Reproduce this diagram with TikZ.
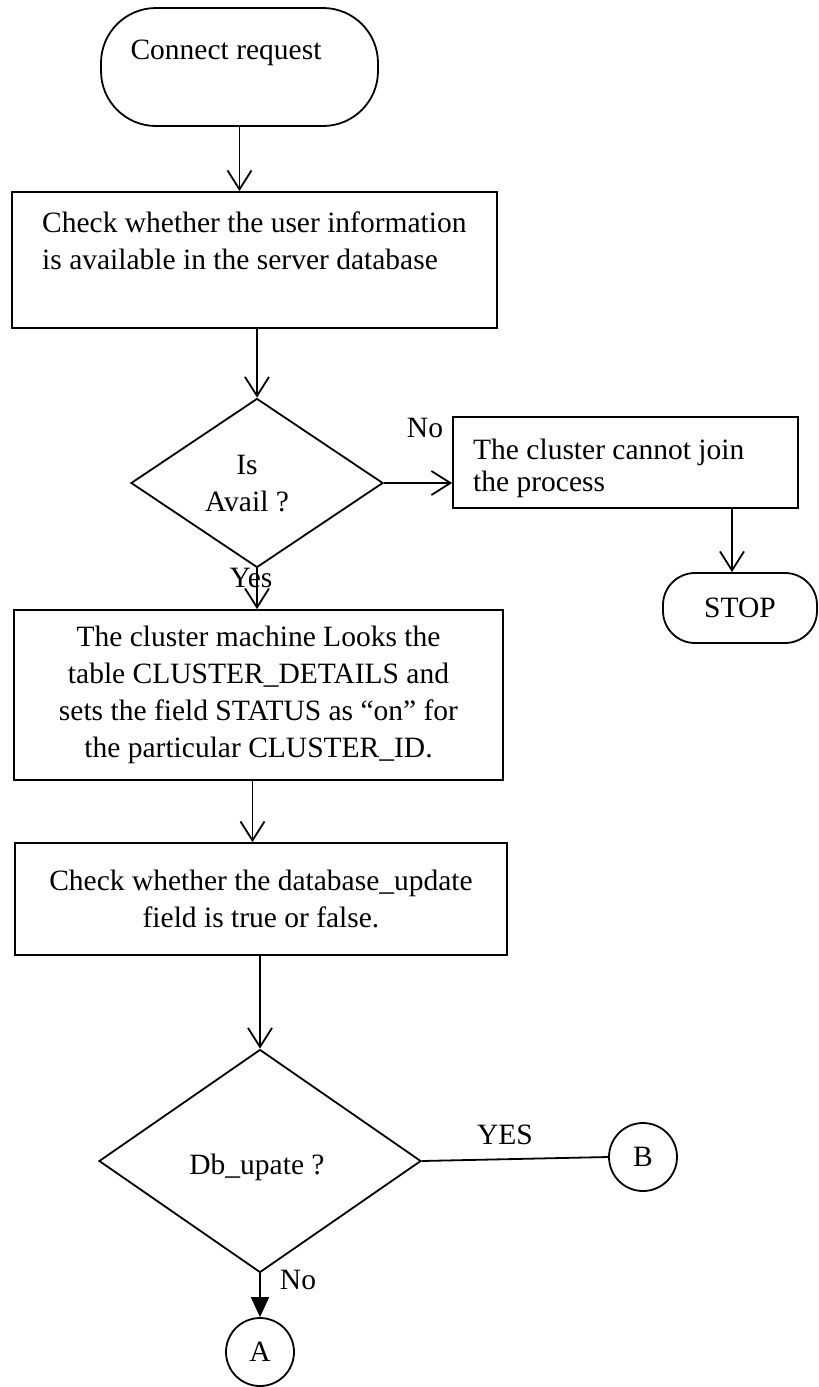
\documentclass[tikz,border=0pt]{standalone}
\usepackage{fontspec}
\setmainfont{Liberation Serif}
\usetikzlibrary{arrows.meta,shapes.geometric}
\begin{document}
\begin{tikzpicture}[x=1pt,y=-1pt,
  every node/.style={font=\fontsize{29.5}{37}\selectfont, inner sep=0pt},
  shapeline/.style={draw=black, line width=1.8pt},
  procbox/.style={shapeline, rectangle},
  termbox/.style={shapeline, rectangle, rounded corners=#1},
  decision/.style={shapeline, diamond},
  connector/.style={shapeline, circle, minimum size=68pt},
  flow/.style={line width=1.8pt, -{Straight Barb[length=19pt,width=24pt]}},
  solidflow/.style={line width=1.8pt, -{Triangle[length=20pt,width=18pt]}},
  plain/.style={line width=1.8pt},
]
\useasboundingbox (0,0) rectangle (819,1387);

% start terminal
\node[termbox=55, minimum width=277pt, minimum height=118pt] (start) at (239.5,67) {};
\node (startT) at (226,53) {Connect request};

% user lookup
\node[procbox, minimum width=485pt, minimum height=136pt] (check) at (254.5,260) {};
\node[anchor=west, align=left] (checkT) at (42,240.5) {Check whether the user information\\is available in the server database};

% availability decision
\node[decision, minimum width=252pt, minimum height=169pt] (avail) at (257,483) {};
\node[align=center] (availT) at (247,484) {Is\\Avail ?};
\node (noA) at (425,428) {No};

% rejection branch
\node[procbox, minimum width=345pt, minimum height=91pt] (deny) at (625.5,462.5) {};
\node[anchor=west, align=left, font=\fontsize{29.5}{32}\selectfont] (denyT) at (473,468) {The cluster cannot join\\the process};
\node[termbox=32, minimum width=154pt, minimum height=70pt] (stop) at (740,608) {STOP};

% accepted branch
\node (yesA) at (251,578) {Yes};
\node[procbox, minimum width=489pt, minimum height=170pt, align=center] (mark) at (258.5,695)
  {The cluster machine Looks the\\table CLUSTER\_DETAILS and\\sets the field STATUS as “on” for\\the particular CLUSTER\_ID.};
\node[procbox, minimum width=492pt, minimum height=112pt, align=center] (upd) at (261,899)
  {Check whether the database\_update\\field is true or false.};

% update decision
\node[decision, minimum width=322pt, minimum height=223pt] (dbq) at (260,1161) {};
\node (dbqT) at (257,1167) {Db\_upate ?};
\node (yesB) at (505,1135) {YES};
\node[connector] (B) at (643,1157) {B};
\node (noB) at (298,1280) {No};
\node[connector] (A) at (260,1352) {A};

% connectors
\draw[flow] (start.south) -- (start.south |- check.north);
\draw[flow] (check.south -| avail.north) -- (avail.north);
\draw[flow] (avail.east) -- (avail.east -| deny.west);
\draw[flow] ([xshift=-8pt]stop.north |- deny.south) -- ([xshift=-8pt]stop.north);
\draw[flow] (avail.south) -- (avail.south |- mark.north);
\draw[flow] ([xshift=-6pt]mark.south) -- ([xshift=-6pt]mark.south |- upd.north);
\draw[flow] (dbq.north |- upd.south) -- (dbq.north);
\draw[plain] (dbq.east) -- (B.west);
\draw[solidflow] (dbq.south) -- (A.north);
\end{tikzpicture}
\end{document}
